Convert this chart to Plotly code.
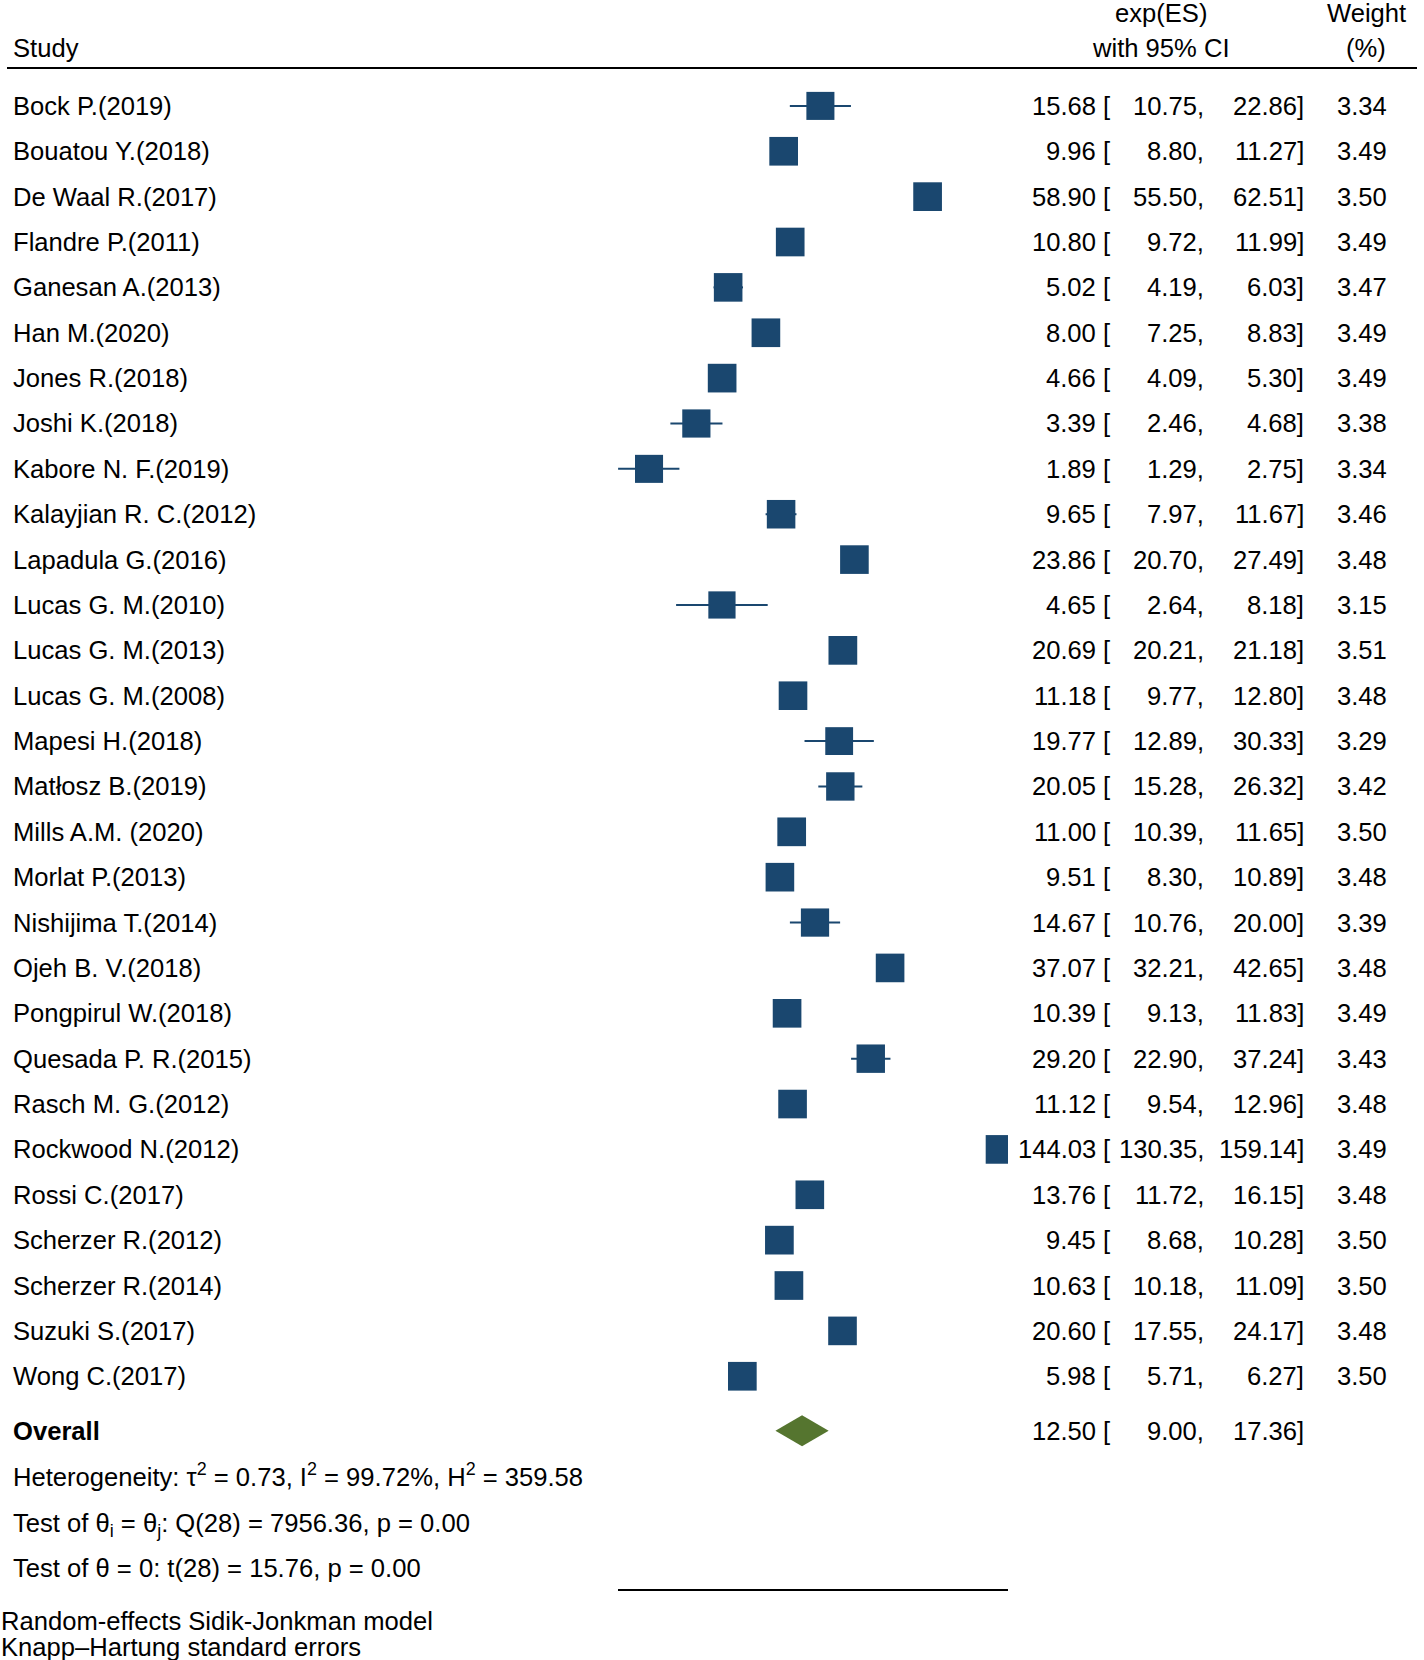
import plotly.graph_objects as go
import numpy as np

studies = ["Bock P.(2019)", "Bouatou Y.(2018)", "De Waal R.(2017)", "Flandre P.(2011)",
           "Ganesan A.(2013)", "Han M.(2020)", "Jones R.(2018)", "Joshi K.(2018)",
           "Kabore N. F.(2019)", "Kalayjian R. C.(2012)", "Lapadula G.(2016)",
           "Lucas G. M.(2010)", "Lucas G. M.(2013)", "Lucas G. M.(2008)", "Mapesi H.(2018)",
           "Matłosz B.(2019)", "Mills A.M. (2020)", "Morlat P.(2013)", "Nishijima T.(2014)",
           "Ojeh B. V.(2018)", "Pongpirul W.(2018)", "Quesada P. R.(2015)", "Rasch M. G.(2012)",
           "Rockwood N.(2012)", "Rossi C.(2017)", "Scherzer R.(2012)", "Scherzer R.(2014)",
           "Suzuki S.(2017)", "Wong C.(2017)"]
es = [15.68, 9.96, 58.90, 10.80, 5.02, 8.00, 4.66, 3.39, 1.89, 9.65, 23.86, 4.65, 20.69,
      11.18, 19.77, 20.05, 11.00, 9.51, 14.67, 37.07, 10.39, 29.20, 11.12, 144.03, 13.76,
      9.45, 10.63, 20.60, 5.98]
lo = [10.75, 8.80, 55.50, 9.72, 4.19, 7.25, 4.09, 2.46, 1.29, 7.97, 20.70, 2.64, 20.21,
      9.77, 12.89, 15.28, 10.39, 8.30, 10.76, 32.21, 9.13, 22.90, 9.54, 130.35, 11.72,
      8.68, 10.18, 17.55, 5.71]
hi = [22.86, 11.27, 62.51, 11.99, 6.03, 8.83, 5.30, 4.68, 2.75, 11.67, 27.49, 8.18, 21.18,
      12.80, 30.33, 26.32, 11.65, 10.89, 20.00, 42.65, 11.83, 37.24, 12.96, 159.14, 16.15,
      10.28, 11.09, 24.17, 6.27]
weight = [3.34, 3.49, 3.50, 3.49, 3.47, 3.49, 3.49, 3.38, 3.34, 3.46, 3.48, 3.15, 3.51,
          3.48, 3.29, 3.42, 3.50, 3.48, 3.39, 3.48, 3.49, 3.43, 3.48, 3.49, 3.48, 3.50,
          3.50, 3.48, 3.50]
overall = {"es": 12.50, "lo": 9.00, "hi": 17.36}
het_text = "Heterogeneity: τ<sup>2</sup> = 0.73, I<sup>2</sup> = 99.72%, H<sup>2</sup> = 359.58"
test1_text = "Test of θ<sub>i</sub> = θ<sub>j</sub>: Q(28) = 7956.36, p = 0.00"
test2_text = "Test of θ = 0: t(28) = 15.76, p = 0.00"
notes = ["Random-effects Sidik-Jonkman model", "Knapp–Hartung standard errors"]

W, H = 1424, 1660
ROW0, ROWH = 105.9, 45.37
NAVY = "#1a476f"
GREEN = "#55752f"
FONT = "Liberation Sans, Arial, sans-serif"
FS = 25.6

def ypx(px):
    return (px - ROW0) / ROWH

def xp(px):
    return px / W

n = len(studies)
rows = list(range(n))
es_a, lo_a, hi_a, w_a = map(np.array, (es, lo, hi, weight))
sizes = 28.7 * np.sqrt(w_a / 3.5)

fig = go.Figure()
# CI lines (beneath the squares)
cx, cy = [], []
for i in rows:
    cx += [lo[i], hi[i], None]
    cy += [i, i, None]
fig.add_trace(go.Scatter(x=cx, y=cy, mode="lines", line=dict(color=NAVY, width=2),
                         hoverinfo="skip", showlegend=False))
fig.add_trace(go.Scatter(
    x=es_a, y=rows, mode="markers",
    marker=dict(symbol="square", size=sizes, color=NAVY, opacity=1, line=dict(width=0)),
    hoverinfo="skip", showlegend=False))

ov_row = ypx(1430.8)
dh = 15.5 / ROWH
fig.add_trace(go.Scatter(
    x=[overall["lo"], overall["es"], overall["hi"], overall["es"], overall["lo"]],
    y=[ov_row, ov_row - dh, ov_row, ov_row + dh, ov_row],
    mode="lines", fill="toself", fillcolor=GREEN, line=dict(width=0, color=GREEN),
    hoverinfo="skip", showlegend=False))

ann = []
def txt(x, y, s, anchor="left", bold=False, size=FS):
    ann.append(dict(x=xp(x), y=y, xref="paper", yref="y", text=s, showarrow=False,
                    xanchor=anchor, yanchor="middle", borderpad=0,
                    font=dict(family=FONT, size=size, color="black",
                              weight="bold" if bold else "normal")))

# header
txt(12, ypx(47.6), "Study")
txt(1161, ypx(12.7), "exp(ES)", "center")
txt(1161, ypx(47.6), "with 95% CI", "center")
txt(1366, ypx(12.7), "Weight", "center")
txt(1366, ypx(47.6), "(%)", "center")

def num_row(y, e, l, h, w=None):
    txt(1097, y, f"{e:.2f}", "right")
    txt(1102, y, "[", "left")
    txt(1205, y, f"{l:.2f},", "right")
    txt(1305, y, f"{h:.2f}]", "right")
    if w is not None:
        txt(1388, y, f"{w:.2f}", "right")

for i in rows:
    txt(12, i, studies[i])
    num_row(i, es[i], lo[i], hi[i], weight[i])

txt(12, ov_row, "Overall", bold=True)
num_row(ov_row, overall["es"], overall["lo"], overall["hi"])
txt(12, ypx(1475), het_text)
txt(12, ypx(1525), test1_text)
txt(12, ypx(1568), test2_text)
txt(0, ypx(1621), notes[0])
txt(0, ypx(1647), notes[1])

shapes = [dict(type="line", xref="paper", yref="y", x0=xp(7), x1=xp(1417),
               y0=ypx(68), y1=ypx(68), line=dict(color="black", width=2))]

x_lo_px, x_hi_px = 618.1, 1008.1
fig.update_layout(
    width=W, height=H, margin=dict(l=0, r=0, t=0, b=0),
    paper_bgcolor="white", plot_bgcolor="white",
    annotations=ann, shapes=shapes,
    xaxis=dict(type="log", range=[np.log10(min(lo)), np.log10(max(hi))],
               domain=[xp(x_lo_px), xp(x_hi_px)], anchor="free", position=1 - 1590 / H,
               showline=True, linecolor="black", linewidth=2, ticks="",
               showticklabels=False, showgrid=False, zeroline=False),
    yaxis=dict(range=[ypx(H), ypx(0)], domain=[0, 1], visible=False,
               showgrid=False, zeroline=False),
)
fig.write_html("out.html", config={"displayModeBar": False},
               post_script="document.body.style.margin='0';")
